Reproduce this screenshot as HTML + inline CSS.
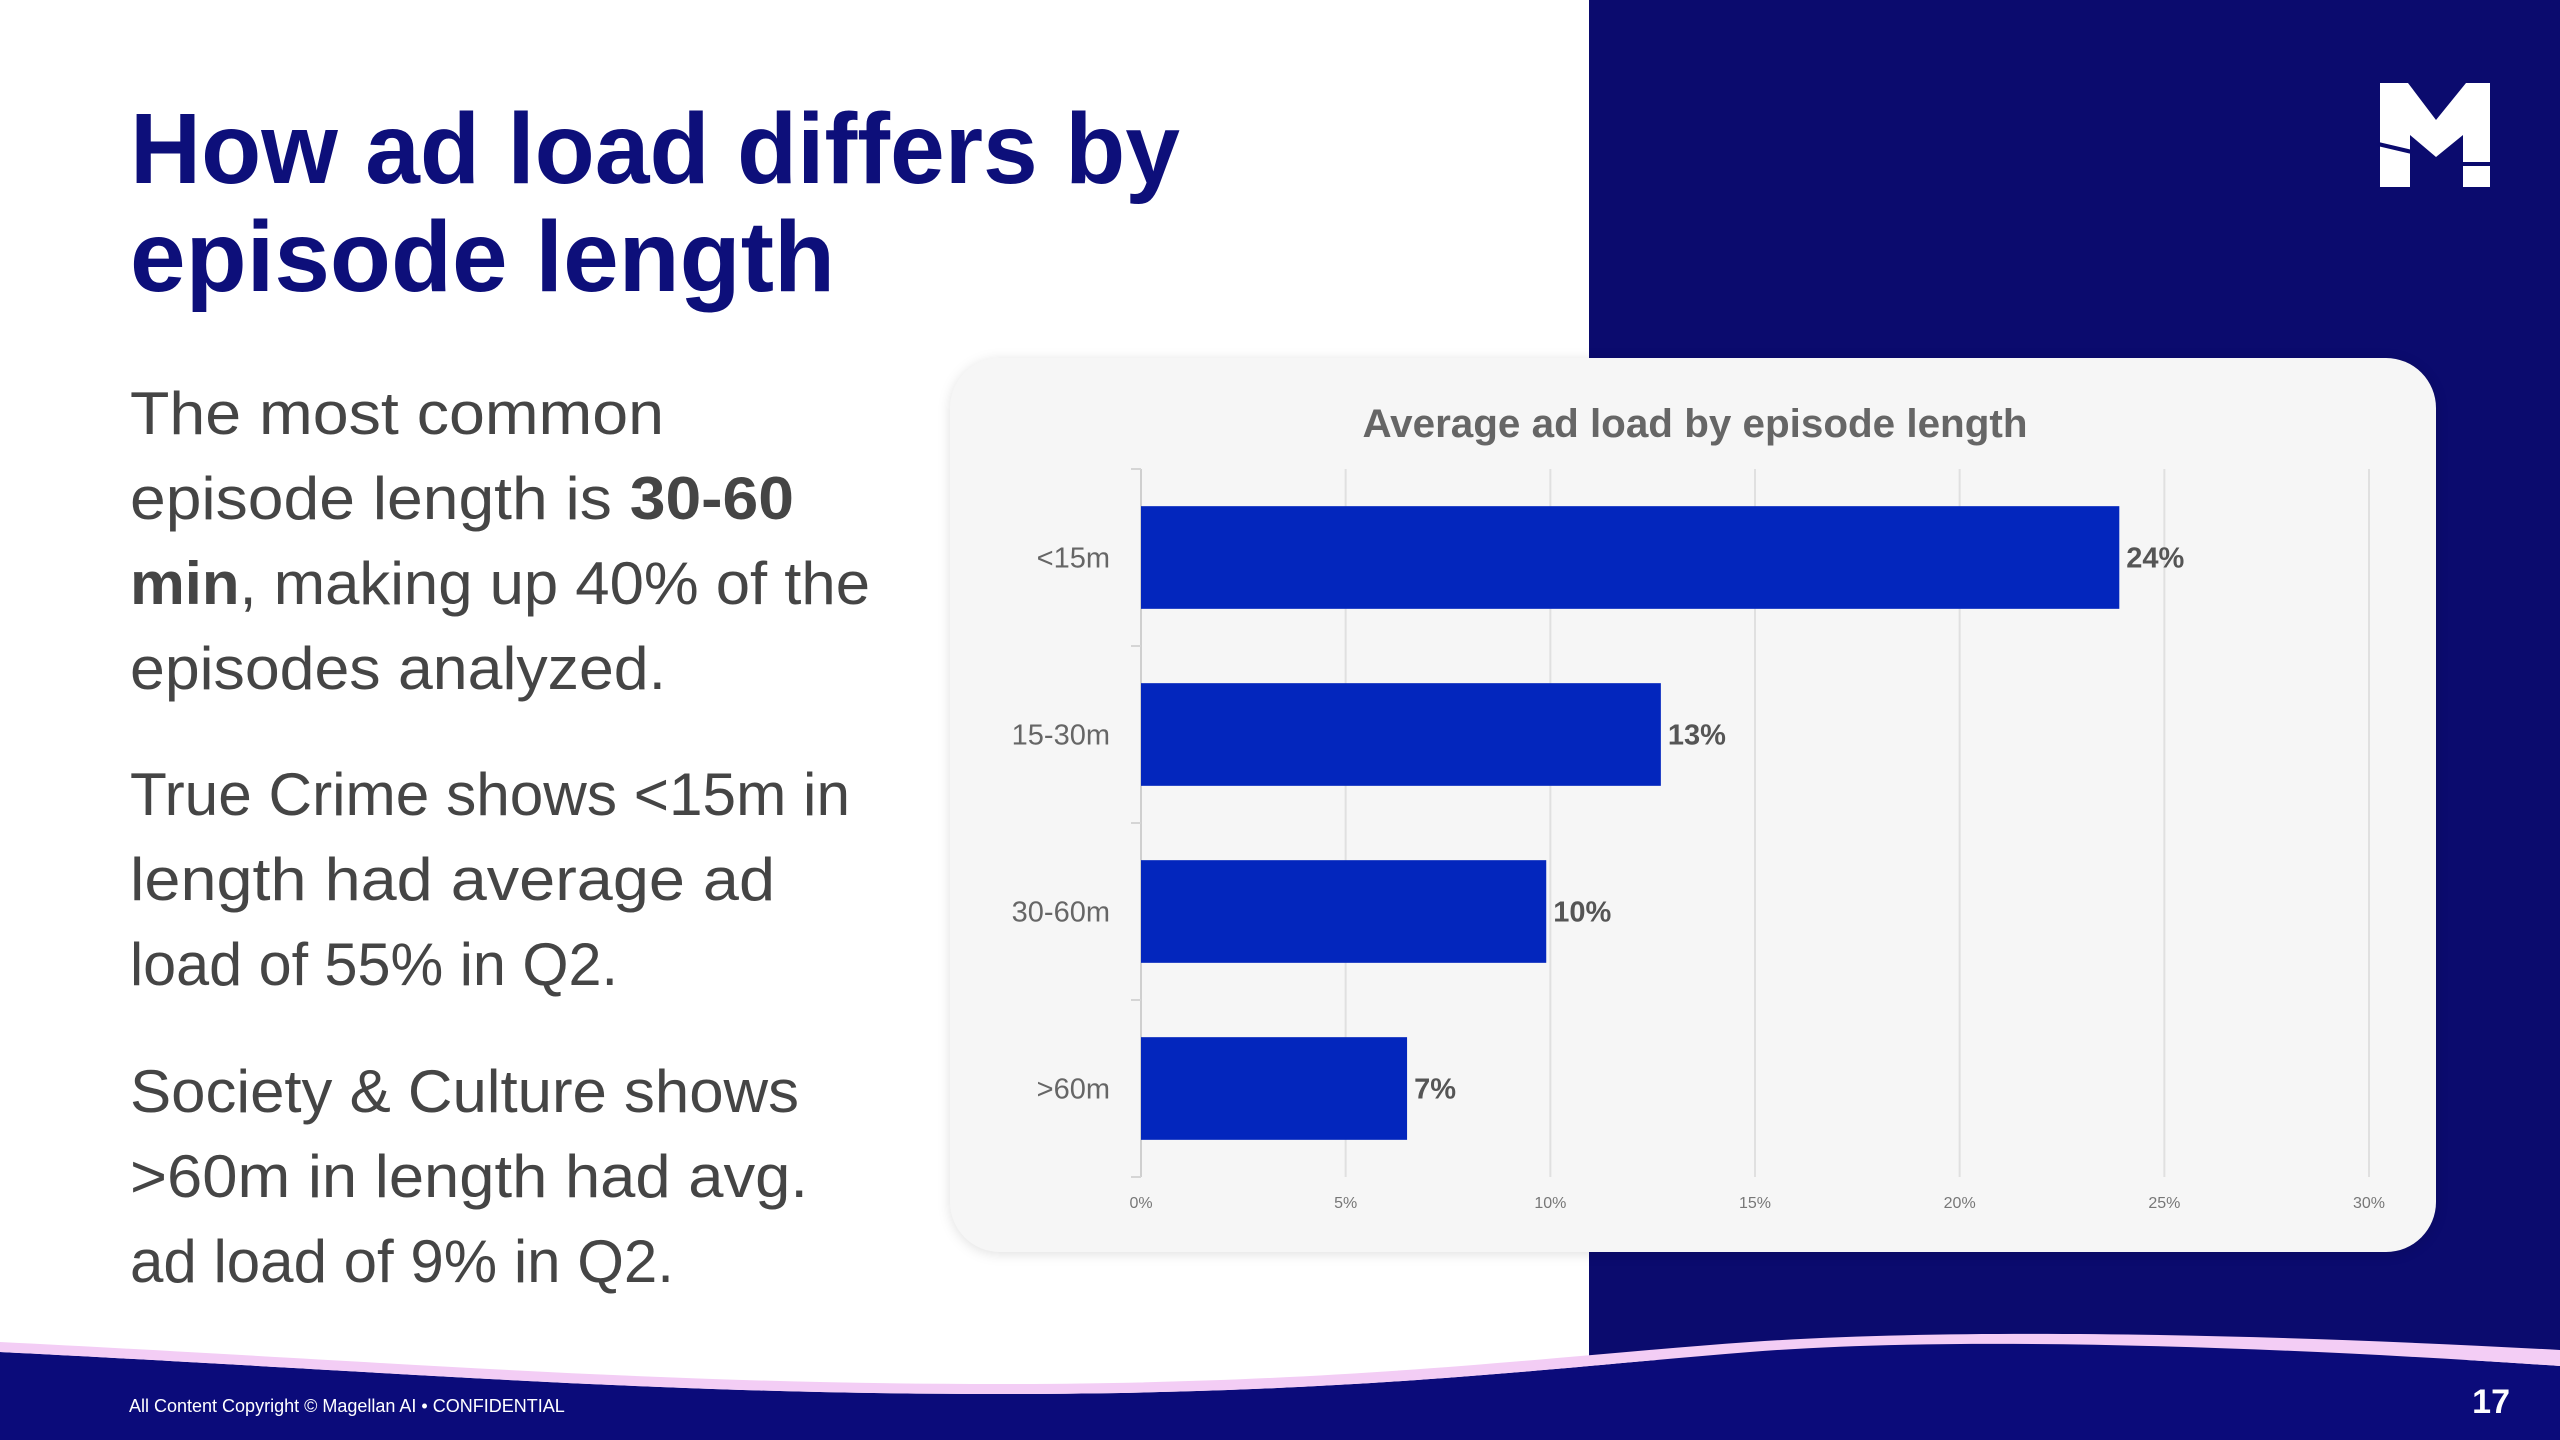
<!DOCTYPE html>
<html><head><meta charset="utf-8"><style>
html,body{margin:0;padding:0;width:2560px;height:1440px;overflow:hidden;background:#fff}
svg{display:block;font-family:"Liberation Sans",sans-serif}
</style></head><body>
<svg id="s" width="2560" height="1440" viewBox="0 0 2560 1440">
<rect x="1589" y="0" width="971" height="1360" fill="#0b0b6e"/>
<g>
<polygon points="2380,83 2408,83 2436,120 2466,83 2490,83 2490,187 2463,187 2463,135 2436,157 2410,135 2410,187 2380,187" fill="#fff"/>
<line x1="2378" y1="144" x2="2412" y2="152" stroke="#0b0b6e" stroke-width="4"/>
<line x1="2461" y1="164" x2="2492" y2="164" stroke="#0b0b6e" stroke-width="4"/>
</g>
<g fill="#0d0f7a" font-weight="700" font-size="100">
<text x="130" y="183" textLength="1050" lengthAdjust="spacingAndGlyphs">How ad load differs by</text>
<text x="130" y="291" textLength="705" lengthAdjust="spacingAndGlyphs">episode length</text>
</g>
<g fill="#454545" font-size="60">
<text x="130" y="434" textLength="534" lengthAdjust="spacingAndGlyphs">The most common</text>
<text x="130" y="519" textLength="664" lengthAdjust="spacingAndGlyphs">episode length is <tspan font-weight="700">30-60</tspan></text>
<text x="130" y="604" textLength="740" lengthAdjust="spacingAndGlyphs"><tspan font-weight="700">min</tspan>, making up 40% of the</text>
<text x="130" y="689" textLength="536" lengthAdjust="spacingAndGlyphs">episodes analyzed.</text>
<text x="130" y="815" textLength="720" lengthAdjust="spacingAndGlyphs">True Crime shows &lt;15m in</text>
<text x="130" y="900" textLength="645" lengthAdjust="spacingAndGlyphs">length had average ad</text>
<text x="130" y="985" textLength="488" lengthAdjust="spacingAndGlyphs">load of 55% in Q2.</text>
<text x="130" y="1112" textLength="669" lengthAdjust="spacingAndGlyphs">Society &amp; Culture shows</text>
<text x="130" y="1197" textLength="678" lengthAdjust="spacingAndGlyphs">&gt;60m in length had avg.</text>
<text x="130" y="1282" textLength="544" lengthAdjust="spacingAndGlyphs">ad load of 9% in Q2.</text>
</g>
<rect x="950" y="358" width="1486" height="894" rx="50" fill="#f6f6f6" style="filter:drop-shadow(0 2px 6px rgba(0,0,0,0.12))"/>
<text x="1695" y="437" text-anchor="middle" fill="#666" font-weight="700" font-size="40" textLength="665" lengthAdjust="spacingAndGlyphs">Average ad load by episode length</text>
<g id="chart"></g>
<g>
<path d="M0,1352 C400,1372 650,1394 1000,1394 C1350,1394 1550,1368 1750,1352 C1950,1336 2250,1345 2560,1366 L2560,1440 L0,1440 Z" fill="#0b0b7a"/>
<path d="M0,1342 C400,1362 650,1384 1000,1384 C1350,1384 1550,1356 1750,1342 C1950,1328 2250,1333 2560,1350 L2560,1366 C2250,1345 1950,1336 1750,1352 C1550,1368 1350,1394 1000,1394 C650,1394 400,1372 0,1352 Z" fill="#f3cdf5"/>
</g>
<text x="129" y="1412" fill="#fff" font-size="18">All Content Copyright © Magellan AI • CONFIDENTIAL</text>
<text x="2510" y="1413" text-anchor="end" fill="#fff" font-size="34" font-weight="700">17</text>
</svg>
<script>
const categories = ["<15m","15-30m","30-60m",">60m"];
const values = [23.9, 12.7, 9.9, 6.5];
const valueLabels = ["24%","13%","10%","7%"];
const ticks = [0,5,10,15,20,25,30];
const tickLabels = ["0%","5%","10%","15%","20%","25%","30%"];
const NS="http://www.w3.org/2000/svg";
const g=document.getElementById('chart');
const X0=1141,X1=2369,Y0=469,Y1=1177;
const xs=v=>X0+(v-0)/(30-0)*(X1-X0);
const band=(Y1-Y0)/categories.length;
const ys=i=>Y0+i*band;
function mk(t,a,txt){const e=document.createElementNS(NS,t);for(const k in a)e.setAttribute(k,a[k]);if(txt!==undefined)e.textContent=txt;g.appendChild(e);return e;}
ticks.forEach((t,i)=>{
  const l=mk('line',{x1:xs(t),x2:xs(t),y1:Y0,y2:Y1,stroke:i===0?'#cfcfcf':'#e0e0e0','stroke-width':2});
  
  
  const tx=mk('text',{x:xs(t),y:Y1+31,'text-anchor':'middle',fill:'#777','font-size':16},tickLabels[i]);
  
  
});
for(let i=0;i<=categories.length;i++){
  const tk=mk('line',{x1:X0-10,x2:X0,y1:ys(i),y2:ys(i),stroke:'#d5d5d5','stroke-width':2});
  
  
}
categories.forEach((c,i)=>{
  const bh=band*0.58, by=ys(i)+(band-bh)/2;
  const r=mk('rect',{x:X0,y:by,width:xs(values[i])-X0,height:bh,fill:'#0326bd'});
  
  
  const cl=mk('text',{x:1110,y:by+bh/2+10,'text-anchor':'end',fill:'#666','font-size':29},c);
  
  
  const vl=mk('text',{x:xs(values[i])+7,y:by+bh/2+10,fill:'#555','font-size':29,'font-weight':700},valueLabels[i]);
  
  
});
</script>
</body></html>
